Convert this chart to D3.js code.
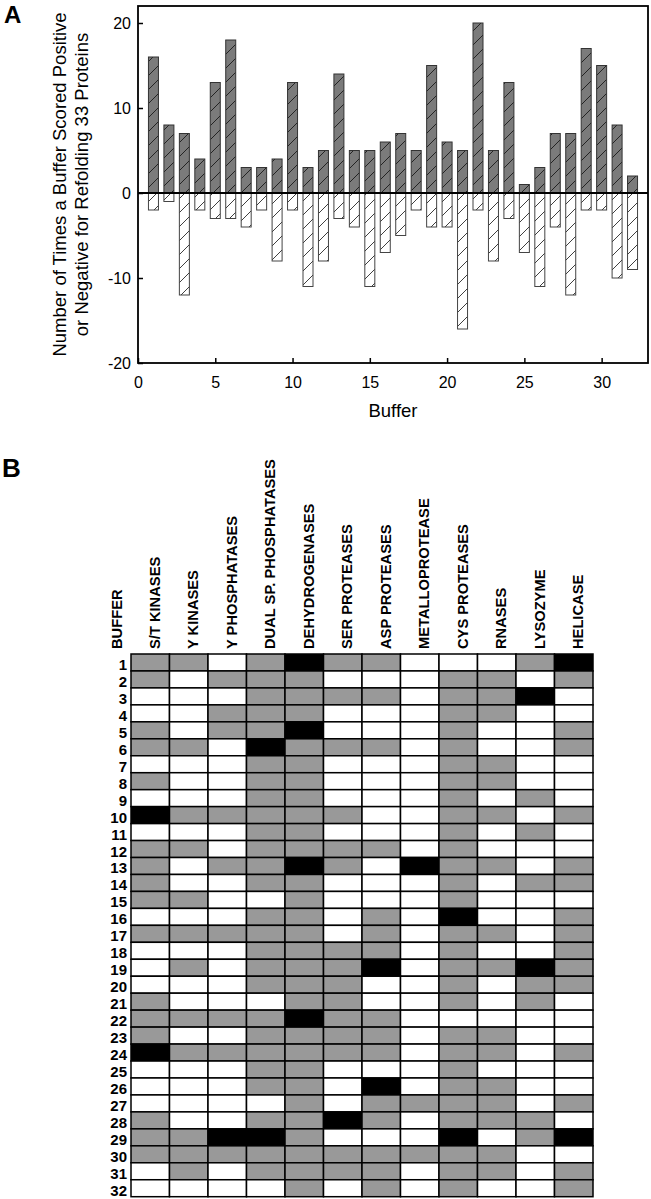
<!DOCTYPE html>
<html>
<head>
<meta charset="utf-8">
<script src="https://cdn.jsdelivr.net/npm/d3@7"></script>
<style>
  html, body { margin: 0; padding: 0; background: #fff; }
  svg { display: block; }
  text { font-family: "Liberation Sans", Arial, Helvetica, sans-serif; fill: #000; }
</style>
</head>
<body>
<svg id="chart" width="651" height="1199"></svg>
<script>
// ---------- DATA ----------
const buffers = [1,2,3,4,5,6,7,8,9,10,11,12,13,14,15,16,17,18,19,20,21,22,23,24,25,26,27,28,29,30,31,32];
const positiveCounts = [16,8,7,4,13,18,3,3,4,13,3,5,14,5,5,6,7,5,15,6,5,20,5,13,1,3,7,7,17,15,8,2];
const negativeCounts = [-2,-1,-12,-2,-3,-3,-4,-2,-8,-2,-11,-8,-3,-4,-11,-7,-5,-2,-4,-4,-16,-2,-8,-3,-7,-11,-4,-12,-2,-2,-10,-9];
const yTicks = [-20,-10,0,10,20];
const xTicks = [0,5,10,15,20,25,30];

const proteinClasses = ["S/T KINASES","Y KINASES","Y PHOSPHATASES","DUAL SP. PHOSPHATASES","DEHYDROGENASES","SER PROTEASES","ASP PROTEASES","METALLOPROTEASE","CYS PROTEASES","RNASES","LYSOZYME","HELICASE"];
// 0 = white, 1 = gray, 2 = black ; one row per buffer
const scores = [
  [1,1,0,1,2,1,1,0,0,0,1,2],
  [1,0,1,1,1,0,0,0,1,1,0,1],
  [0,0,0,1,1,1,1,0,1,1,2,0],
  [0,0,1,1,1,0,0,0,1,1,0,0],
  [1,0,1,1,2,0,0,0,1,0,0,1],
  [1,1,0,2,1,1,1,0,1,0,0,1],
  [0,0,0,1,1,0,0,0,1,1,0,0],
  [1,0,0,1,1,0,0,0,1,1,0,0],
  [0,0,0,1,1,0,0,0,1,0,1,0],
  [2,1,1,1,1,1,0,0,1,1,0,1],
  [0,0,0,1,1,0,0,0,1,0,1,0],
  [1,1,0,1,1,1,1,0,1,0,0,0],
  [1,0,1,1,2,1,0,2,1,1,0,1],
  [1,0,0,1,1,0,0,0,1,0,1,1],
  [1,1,0,0,1,0,0,0,1,0,0,0],
  [0,0,0,1,1,0,1,0,2,0,0,1],
  [1,1,1,1,1,0,1,0,1,1,0,1],
  [0,0,0,1,1,1,1,0,1,0,0,1],
  [0,1,0,1,1,1,2,0,1,1,2,1],
  [0,0,0,1,1,1,0,0,1,0,1,1],
  [1,0,0,0,1,1,0,0,1,0,1,0],
  [1,1,1,1,2,1,1,0,0,0,0,0],
  [1,0,0,1,1,1,1,0,1,1,0,0],
  [2,1,1,1,1,1,1,0,1,1,0,1],
  [0,0,0,1,1,0,0,0,1,0,0,0],
  [0,0,0,1,1,0,2,0,1,1,0,0],
  [0,0,0,0,1,0,1,1,1,1,0,1],
  [1,0,0,1,1,2,1,0,1,1,1,0],
  [1,1,2,2,1,0,0,0,2,0,1,2],
  [1,1,1,1,1,1,1,1,1,1,0,0],
  [0,1,0,1,1,1,1,0,1,1,0,1],
  [0,0,0,0,1,0,1,0,1,0,0,1]
];
const scoreColors = ["#ffffff", "#999999", "#000000"];

// ---------- SVG ----------
const svg = d3.select("#chart");
const FONT = "'Liberation Sans', Arial, Helvetica, sans-serif";

// patterns
const defs = svg.append("defs");
function hatch(id, bg, line) {
  const p = defs.append("pattern").attr("id", id)
    .attr("patternUnits", "userSpaceOnUse").attr("width", 14).attr("height", 14);
  p.append("rect").attr("width", 14).attr("height", 14).attr("fill", bg);
  p.append("path").attr("d", "M0,14 L14,0 M-3.5,3.5 L3.5,-3.5 M10.5,17.5 L17.5,10.5")
    .attr("stroke", line).attr("stroke-width", 0.9).attr("fill", "none");
}
hatch("hatchPos", "#7b7b7b", "#1a1a1a");
hatch("hatchNeg", "#ffffff", "#2a2a2a");

// ---------- PANEL A ----------
const A = { left: 138, right: 648, top: 6, bottom: 363 };
const x = d3.scaleLinear().domain([0, 33]).range([A.left, A.right]);
const y = d3.scaleLinear().domain([-20, 22]).range([A.bottom, A.top]);
const barW = 10;

const gA = svg.append("g");

gA.selectAll("rect.pos").data(buffers).join("rect")
  .attr("class", "pos")
  .attr("x", (d) => x(d) - barW / 2)
  .attr("width", barW)
  .attr("y", (d, i) => y(positiveCounts[i]))
  .attr("height", (d, i) => y(0) - y(positiveCounts[i]))
  .attr("fill", "url(#hatchPos)")
  .attr("stroke", "#333").attr("stroke-width", 1);

gA.selectAll("rect.neg").data(buffers).join("rect")
  .attr("class", "neg")
  .attr("x", (d) => x(d) - barW / 2)
  .attr("width", barW)
  .attr("y", y(0))
  .attr("height", (d, i) => y(negativeCounts[i]) - y(0))
  .attr("fill", "url(#hatchNeg)")
  .attr("stroke", "#444").attr("stroke-width", 1);

// zero line
gA.append("line")
  .attr("x1", A.left).attr("x2", A.right)
  .attr("y1", y(0)).attr("y2", y(0))
  .attr("stroke", "#000").attr("stroke-width", 2);

// axes
const fmt = d => String(d);
const yAxis = d3.axisLeft(y).tickValues(yTicks).tickSize(-5).tickPadding(7).tickFormat(fmt);
const gy = gA.append("g").attr("transform", `translate(${A.left},0)`).call(yAxis);
const xAxis = d3.axisBottom(x).tickValues(xTicks).tickSize(-5).tickPadding(14).tickFormat(fmt);
const gx = gA.append("g").attr("transform", `translate(0,${A.bottom})`).call(xAxis);
[gx, gy].forEach(g => {
  g.select(".domain").remove();
  g.selectAll(".tick line").attr("stroke", "#000").attr("stroke-width", 1.5);
  g.selectAll(".tick text").attr("font-size", 16).attr("font-family", FONT).attr("fill", "#000");
});

// frame
gA.append("rect")
  .attr("x", A.left).attr("y", A.top)
  .attr("width", A.right - A.left).attr("height", A.bottom - A.top)
  .attr("fill", "none").attr("stroke", "#000").attr("stroke-width", 1.8);

// axis titles
const yMid = (A.top + A.bottom) / 2;
const yLab = gA.append("g").attr("font-size", 18.5);
yLab.append("text")
  .attr("transform", `translate(60,${yMid}) rotate(-90)`)
  .attr("text-anchor", "middle").attr("dy", "0.35em")
  .text("Number of Times a Buffer Scored Positive");
yLab.append("text")
  .attr("transform", `translate(82,${yMid}) rotate(-90)`)
  .attr("text-anchor", "middle").attr("dy", "0.35em")
  .text("or Negative for Refolding 33 Proteins");

gA.append("text")
  .attr("x", (A.left + A.right) / 2).attr("y", 416.5)
  .attr("text-anchor", "middle").attr("font-size", 18.5)
  .text("Buffer");

svg.append("text").attr("x", 4).attr("y", 23)
  .attr("font-size", 24).attr("font-weight", "bold").text("A");

// ---------- PANEL B ----------
svg.append("text").attr("x", 2).attr("y", 477)
  .attr("font-size", 26).attr("font-weight", "bold").text("B");

const B = { left: 131, right: 593, top: 654, bottom: 1196.7 };
const cx = d3.scaleBand().domain(proteinClasses).range([B.left, B.right]).padding(0);
const cy = d3.scaleBand().domain(buffers).range([B.top, B.bottom]).padding(0);

const gB = svg.append("g");
const cells = [];
scores.forEach((row, r) => row.forEach((v, c) => cells.push({ buffer: buffers[r], cls: proteinClasses[c], v })));

gB.selectAll("rect.cell").data(cells).join("rect")
  .attr("class", "cell")
  .attr("x", d => cx(d.cls)).attr("y", d => cy(d.buffer))
  .attr("width", cx.bandwidth()).attr("height", cy.bandwidth())
  .attr("fill", d => scoreColors[d.v])
  .attr("stroke", "#000").attr("stroke-width", 1.5);

// row labels
gB.selectAll("text.row").data(buffers).join("text")
  .attr("class", "row")
  .attr("x", 127)
  .attr("y", d => cy(d) + cy.bandwidth() - 1)
  .attr("text-anchor", "end")
  .attr("font-size", 15).attr("font-weight", "bold")
  .text(d => d);

// column labels
gB.selectAll("text.col").data(proteinClasses).join("text")
  .attr("class", "col")
  .attr("transform", d => `translate(${cx(d) + cx.bandwidth() / 2 + 4.5},649) rotate(-90)`)
  .attr("dy", "0.35em")
  .attr("font-size", 14.7).attr("font-weight", "bold")
  .text(d => d);

gB.append("text")
  .attr("transform", `translate(117,649) rotate(-90)`)
  .attr("dy", "0.35em")
  .attr("font-size", 14.7).attr("font-weight", "bold")
  .text("BUFFER");
</script>
</body>
</html>
